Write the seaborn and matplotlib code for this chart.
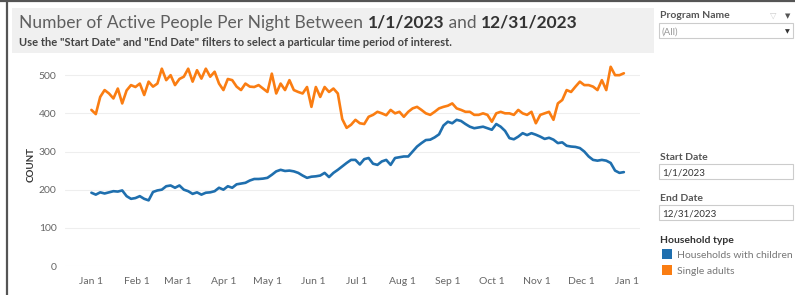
import pandas as pd
import numpy as np
import matplotlib.pyplot as plt
import seaborn as sns
from matplotlib.patches import Rectangle
from matplotlib.lines import Line2D

# ===============================
# DATA (one value every 3 days)
# ===============================
dates = pd.date_range("2023-01-01", "2023-12-30", freq="3D")

single_adults = [
    409, 398, 443, 461, 452, 439, 465, 426, 460, 474, 469, 478, 448, 483, 470, 478,
    517, 487, 500, 474, 490, 496, 517, 483, 513, 491, 517, 496, 509, 478, 461, 490,
    487, 470, 461, 478, 470, 469, 474, 465, 456, 504, 452, 478, 461, 487, 461, 456,
    452, 469, 417, 469, 443, 469, 456, 465, 452, 385, 362, 370, 383, 374, 372, 391,
    396, 404, 400, 395, 409, 400, 404, 391, 404, 413, 417, 409, 400, 396, 404, 413,
    417, 420, 426, 413, 409, 404, 404, 396, 396, 400, 396, 378, 400, 404, 400, 400,
    396, 409, 400, 396, 404, 374, 396, 400, 404, 383, 426, 435, 461, 456, 470, 483,
    474, 474, 470, 461, 487, 461, 522, 500, 500, 505,
]

households_children = [
    192, 187, 193, 190, 193, 196, 195, 198, 183, 176, 178, 183, 176, 172, 194, 198,
    200, 209, 211, 205, 211, 200, 196, 189, 193, 187, 192, 193, 196, 205, 200, 209,
    205, 214, 216, 218, 224, 228, 228, 229, 231, 239, 248, 252, 249, 250, 248, 244,
    237, 231, 234, 235, 237, 244, 233, 244, 252, 261, 270, 278, 278, 266, 280, 283,
    268, 265, 274, 278, 265, 283, 285, 287, 287, 300, 313, 322, 330, 331, 337, 345,
    368, 378, 374, 383, 380, 372, 365, 361, 363, 365, 361, 357, 372, 365, 354, 335,
    332, 339, 348, 343, 348, 344, 339, 333, 336, 331, 322, 324, 315, 313, 312, 309,
    300, 287, 278, 276, 278, 276, 270, 250, 244, 246,
]

series_names = ["Households with children", "Single adults"]
series_colors = ["#1f6fae", "#fa7d12"]

y_ticks = [0, 100, 200, 300, 400, 500]
x_ticks = pd.date_range("2023-01-01", "2024-01-01", freq="MS")
x_tick_labels = ["Jan 1", "Feb 1", "Mar 1", "Apr 1", "May 1", "Jun 1", "Jul 1",
                 "Aug 1", "Sep 1", "Oct 1", "Nov 1", "Dec 1", "Jan 1"]

df = pd.concat([
    pd.DataFrame({"date": dates, "count": households_children, "type": series_names[0]}),
    pd.DataFrame({"date": dates, "count": single_adults, "type": series_names[1]}),
])

# ===============================
# FIGURE
# ===============================
sns.set_theme(style="white")
plt.rcParams["font.family"] = ["Lato", "DejaVu Sans"]

W, H = 795, 295
fig = plt.figure(figsize=(W / 100, H / 100), dpi=100)
fig.patch.set_facecolor("white")


def px(x, y):
    return x / W, 1 - y / H


# screenshot frame (top and left)
fig.add_artist(Line2D([7 / W, 7 / W], [0, 1], color="#555555", lw=1.6, transform=fig.transFigure))
fig.add_artist(Line2D([0, 1], [1 - 1 / H, 1 - 1 / H], color="#555555", lw=1.6, transform=fig.transFigure))

# title band
fig.add_artist(Rectangle(px(12, 53), 642 / W, 45 / H, transform=fig.transFigure,
                         facecolor="#f0f0f0", edgecolor="none"))

# title in pieces (regular / bold)
parts = [("Number of Active People Per Night Between ", "normal", "#5f5f5f"),
         ("1/1/2023", "bold", "#333333"),
         (" and ", "normal", "#5f5f5f"),
         ("12/31/2023", "bold", "#333333")]
renderer = fig.canvas.get_renderer()
x0 = 19
for txt, weight, col in parts:
    t = fig.text(*px(x0, 28), txt, fontsize=12.5, fontweight=weight, color=col,
                 ha="left", va="baseline")
    bb = t.get_window_extent(renderer=renderer)
    x0 += bb.width

fig.text(*px(19, 46), 'Use the "Start Date" and "End Date" filters to select a particular time period of interest.',
         fontsize=8, fontweight="bold", color="#444444", ha="left", va="baseline")

# ===============================
# LINE CHART
# ===============================
ax = fig.add_axes([65 / W, 1 - 266 / H, 575 / W, 208 / H])
sns.lineplot(data=df, x="date", y="count", hue="type", hue_order=series_names,
             palette=dict(zip(series_names, series_colors)), linewidth=1.9,
             legend=False, ax=ax)

ax.set_ylim(0, 545)
ax.set_xlim(pd.Timestamp("2022-12-14"), pd.Timestamp("2024-01-10"))
ax.set_yticks(y_ticks)
ax.set_xticks(x_ticks)
ax.set_xticklabels(x_tick_labels)
ax.grid(axis="y", color="#eeeeee", lw=0.8)
ax.grid(axis="x", visible=False)
for s in ax.spines.values():
    s.set_visible(False)
ax.tick_params(axis="both", length=0, labelsize=7.5, labelcolor="#666666")
ax.tick_params(axis="y", pad=6)
ax.tick_params(axis="x", pad=8)
ax.set_xlabel("")
ax.set_ylabel("")
fig.text(*px(31, 165), "COUNT", rotation=90, fontsize=7, fontweight="bold",
         color="#333333", ha="center", va="center")

# ===============================
# RIGHT PANEL (filters + legend)
# ===============================
lab = dict(fontsize=7.5, fontweight="bold", color="#555555", ha="left", va="baseline")
fig.text(*px(660, 18), "Program Name", **lab)
fig.text(*px(773, 18), "\u25bd", fontsize=6, color="#cccccc", ha="center", va="baseline")
fig.text(*px(788, 18), "\u25bc", fontsize=5, color="#555555", ha="center", va="baseline")


def filter_box(top, text, color, arrow=False):
    fig.add_artist(Rectangle(px(659, top + 15), 134 / W, 15 / H, transform=fig.transFigure,
                             facecolor="white", edgecolor="#cccccc", lw=0.8))
    fig.text(*px(662, top + 11.5), text, fontsize=7, color=color, ha="left", va="baseline")
    if arrow:
        fig.text(*px(787, top + 10.5), "\u25bc", fontsize=4.5, color="#333333",
                 ha="center", va="baseline")


filter_box(23, "(All)", "#999999", arrow=True)
fig.text(*px(660, 160), "Start Date", **lab)
filter_box(164, "1/1/2023", "#333333")
fig.text(*px(660, 201), "End Date", **lab)
filter_box(205, "12/31/2023", "#333333")

fig.text(*px(660, 243), "Household type", fontsize=7.5, fontweight="bold",
         color="#333333", ha="left", va="baseline")
for i, (name, col) in enumerate(zip(series_names, series_colors)):
    yy = 249 + i * 16
    fig.add_artist(Rectangle(px(662, yy + 10), 10 / W, 10 / H, transform=fig.transFigure,
                             facecolor=col, edgecolor="none"))
    fig.text(*px(677, yy + 8.5), name, fontsize=7.5, color="#777777",
             ha="left", va="baseline")

fig.savefig("out.png", dpi=100)
